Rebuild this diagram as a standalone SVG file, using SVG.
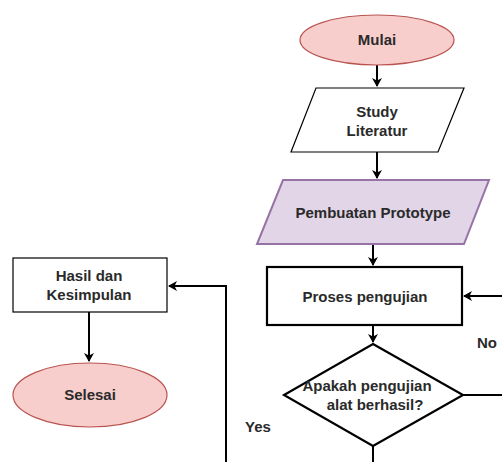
<svg xmlns="http://www.w3.org/2000/svg" width="502" height="462" viewBox="0 0 502 462">
<defs>
<marker id="arr" markerWidth="10" markerHeight="10" refX="8" refY="5" orient="auto" markerUnits="userSpaceOnUse">
<path d="M0,0 L9,5 L0,10 L2.5,5 Z" fill="#000"/>
</marker>
<style>
text{font-family:"Liberation Sans",Arial,sans-serif;font-size:15px;font-weight:bold;fill:#2a2a2a;text-anchor:middle}
.term{fill:#f8cecc;stroke:#b85450;stroke-width:1.2}
.plain{fill:#fff;stroke:#000;stroke-width:1.2}
.thick{fill:#fff;stroke:#000;stroke-width:2.2}
.purp{fill:#e1d5e7;stroke:#9673a6;stroke-width:2}
.con{fill:none;stroke:#000;stroke-width:2}
</style>
</defs>
<rect width="502" height="462" fill="#fff"/>
<g id="connectors">
<path class="con" d="M377,65 V86" marker-end="url(#arr)"/>
<path class="con" d="M377,152 V178" marker-end="url(#arr)"/>
<path class="con" d="M373,244 V265" marker-end="url(#arr)"/>
<path class="con" d="M373,325 V342" marker-end="url(#arr)"/>
<path class="con" d="M502,296 H464" marker-end="url(#arr)"/>
<path class="con" d="M463,395 H502"/>
<path class="con" d="M373,446 V462"/>
<path class="con" d="M226,462 V286 H169" marker-end="url(#arr)"/>
<path class="con" d="M89,312 V361" marker-end="url(#arr)"/>
</g>
<g id="mulai">
<ellipse class="term" cx="377" cy="40" rx="77" ry="25"/>
<text x="377" y="45">Mulai</text>
</g>
<g id="study">
<polygon class="plain" points="316,88 464,88 438,152 291,152"/>
<text x="377" y="117">Study</text>
<text x="377" y="136">Literatur</text>
</g>
<g id="prototype">
<polygon class="purp" points="283,180 489,180 464,244 257,244"/>
<text x="373" y="218">Pembuatan Prototype</text>
</g>
<g id="proses">
<rect class="thick" x="267" y="267" width="195" height="58"/>
<text x="365" y="302">Proses pengujian</text>
</g>
<g id="keputusan">
<polygon class="thick" points="373,344 463,395 373,446 284,395"/>
<text x="367" y="391">Apakah pengujian</text>
<text x="375" y="410">alat berhasil?</text>
</g>
<g id="hasil">
<rect class="plain" x="13" y="258" width="154" height="54"/>
<text x="89" y="281">Hasil dan</text>
<text x="89" y="300">Kesimpulan</text>
</g>
<g id="selesai">
<ellipse class="term" cx="90" cy="395" rx="77" ry="32"/>
<text x="90" y="400">Selesai</text>
</g>
<g id="labels">
<text x="487" y="348">No</text>
<text x="258" y="432">Yes</text>
</g>
</svg>
